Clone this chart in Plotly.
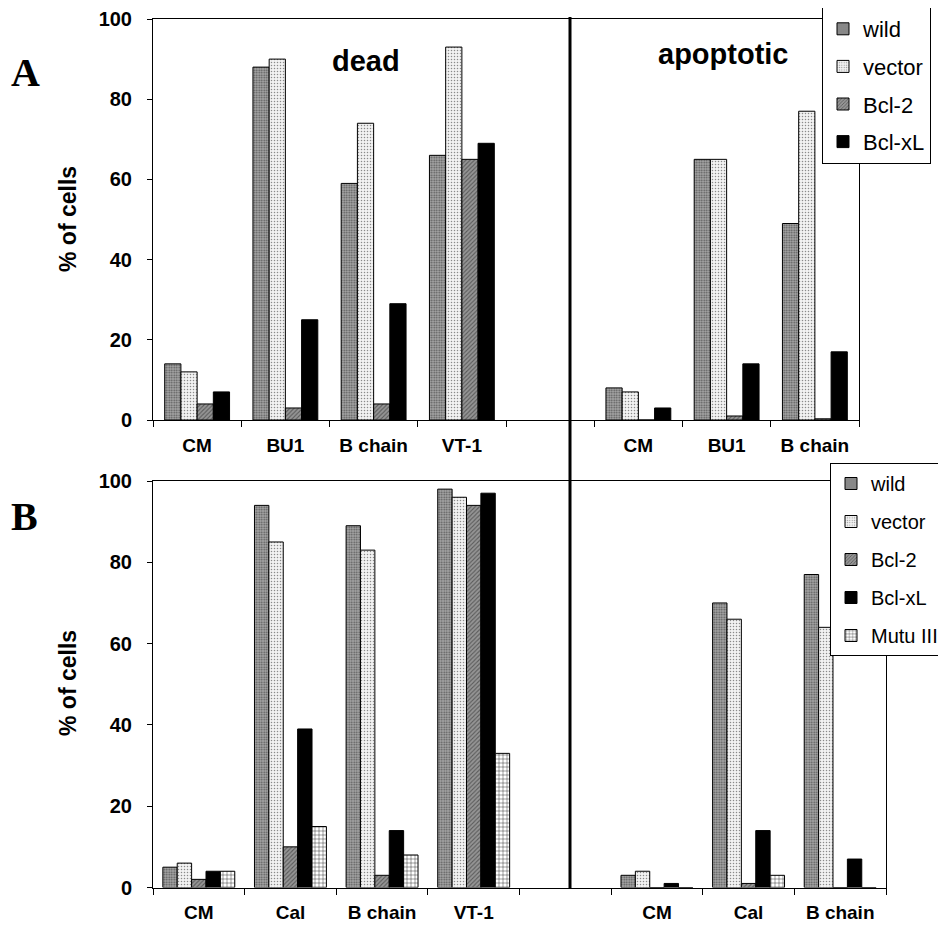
import plotly.graph_objects as go

# ---------------- data ----------------
series_A = ["wild", "vector", "Bcl-2", "Bcl-xL"]
series_B = ["wild", "vector", "Bcl-2", "Bcl-xL", "Mutu III"]

dead_A_cats = ["CM", "BU1", "B chain", "VT-1"]
apo_A_cats = ["CM", "BU1", "B chain"]
dead_B_cats = ["CM", "Cal", "B chain", "VT-1"]
apo_B_cats = ["CM", "Cal", "B chain"]

# Panel A (% of cells)
A_dead_wild = [14, 88, 59, 66]
A_dead_vector = [12, 90, 74, 93]
A_dead_bcl2 = [4, 3, 4, 65]
A_dead_bclxl = [7, 25, 29, 69]
A_apo_wild = [8, 65, 49]
A_apo_vector = [7, 65, 77]
A_apo_bcl2 = [0, 1, 0.3]
A_apo_bclxl = [3, 14, 17]

# Panel B (% of cells)
B_dead_wild = [5, 94, 89, 98]
B_dead_vector = [6, 85, 83, 96]
B_dead_bcl2 = [2, 10, 3, 94]
B_dead_bclxl = [4, 39, 14, 97]
B_dead_mutu = [4, 15, 8, 33]
B_apo_wild = [3, 70, 77]
B_apo_vector = [4, 66, 64]
B_apo_bcl2 = [0, 1, 0]
B_apo_bclxl = [1, 14, 7]
B_apo_mutu = [0, 3, 0]

y_ticks = [0, 20, 40, 60, 80, 100]

# ---------------- geometry / styles ----------------
OFF = 8                 # page body margin of the html page
W, H = 946 - OFF, 929 - OFF

def px_x(p):
    return (p - OFF) / W

def px_y(p):
    return 1 - (p - OFF) / H

styles = {
    "wild": dict(color="#a0a0a0", pattern=dict(shape=".", fgcolor="#555555", bgcolor="#a8a8a8",
                                               size=2.5, solidity=0.4, fillmode="replace")),
    "vector": dict(color="#eeeeee", pattern=dict(shape=".", fgcolor="#8a8a8a", bgcolor="#f2f2f2",
                                                 size=3, solidity=0.2, fillmode="replace")),
    "Bcl-2": dict(color="#8c8c8c", pattern=dict(shape="/", fgcolor="#5a5a5a", bgcolor="#959595",
                                                size=3, solidity=0.35, fillmode="replace")),
    "Bcl-xL": dict(color="#000000"),
    "Mutu III": dict(color="#ffffff", pattern=dict(shape="+", fgcolor="#000000", bgcolor="#ffffff",
                                                   size=4, solidity=0.18, fillmode="replace")),
}

def cats(prefix, names):
    return [f"{prefix}|{n}" for n in names]

catarr_A = cats("dead", dead_A_cats) + ["gap"] + cats("apo", apo_A_cats)
catarr_B = cats("dead", dead_B_cats) + ["gap"] + cats("apo", apo_B_cats)
ticktext_A = dead_A_cats + [""] + apo_A_cats
ticktext_B = dead_B_cats + [""] + apo_B_cats

fig = go.Figure()

A_data = [(A_dead_wild, A_apo_wild), (A_dead_vector, A_apo_vector),
          (A_dead_bcl2, A_apo_bcl2), (A_dead_bclxl, A_apo_bclxl)]
B_data = [(B_dead_wild, B_apo_wild), (B_dead_vector, B_apo_vector),
          (B_dead_bcl2, B_apo_bcl2), (B_dead_bclxl, B_apo_bclxl),
          (B_dead_mutu, B_apo_mutu)]

group_A = 0.735
group_B = 0.785

for i, (name, (d, a)) in enumerate(zip(series_A, A_data)):
    w = group_A / len(series_A)
    fig.add_trace(go.Bar(
        name=name, x=cats("dead", dead_A_cats) + cats("apo", apo_A_cats), y=d + a,
        xaxis="x", yaxis="y", width=w, offset=-group_A / 2 + i * w,
        marker=dict(line=dict(color="black", width=1), **styles[name]),
        legend="legend", legendgroup="A" + name,
    ))

for i, (name, (d, a)) in enumerate(zip(series_B, B_data)):
    w = group_B / len(series_B)
    fig.add_trace(go.Bar(
        name=name, x=cats("dead", dead_B_cats) + cats("apo", apo_B_cats), y=d + a,
        xaxis="x2", yaxis="y2", width=w, offset=-group_B / 2 + i * w,
        marker=dict(line=dict(color="black", width=1), **styles[name]),
        legend="legend2", legendgroup="B" + name,
    ))

tickfont = dict(family="Liberation Sans, Arial", size=20, color="black", weight="bold")
xtickfont = dict(family="Liberation Sans, Arial", size=19, color="black", weight="bold")

common_x = dict(type="category", showline=True, linecolor="black", linewidth=1, mirror=True,
                ticks="outside", ticklen=6, tickcolor="black", tickson="boundaries",
                showgrid=False, zeroline=False, tickfont=xtickfont, ticklabelstandoff=8,
                fixedrange=True)
common_y = dict(range=[0, 100], tickvals=y_ticks, showline=True, linecolor="black", linewidth=1,
                mirror=True, ticks="outside", ticklen=5, tickcolor="black", showgrid=False,
                zeroline=False, tickfont=tickfont, ticklabelstandoff=11, fixedrange=True)

fig.update_layout(
    width=W, height=H,
    margin=dict(l=0, r=0, t=0, b=0, autoexpand=False),
    paper_bgcolor="white", plot_bgcolor="white",
    barmode="group",
    font=dict(family="Liberation Sans, Arial", color="black"),
    xaxis=dict(domain=[px_x(153), px_x(859)], anchor="y", categoryorder="array",
               categoryarray=catarr_A, tickvals=catarr_A, ticktext=ticktext_A, **common_x),
    yaxis=dict(domain=[px_y(420), px_y(19)], anchor="x", **common_y),
    xaxis2=dict(domain=[px_x(153), px_x(886)], anchor="y2", categoryorder="array",
                categoryarray=catarr_B, tickvals=catarr_B, ticktext=ticktext_B, **common_x),
    yaxis2=dict(domain=[px_y(887.5), px_y(481)], anchor="x2", **common_y),
    legend=dict(x=px_x(822), y=px_y(7), xanchor="left", yanchor="top",
                bgcolor="white", bordercolor="black", borderwidth=1,
                font=dict(size=22, family="Liberation Sans, Arial", color="black"),
                tracegroupgap=6,
                itemclick=False, itemdoubleclick=False),
    legend2=dict(x=px_x(830), y=px_y(463), xanchor="left", yanchor="top",
                 bgcolor="white", bordercolor="black", borderwidth=1,
                 font=dict(size=20, family="Liberation Sans, Arial", color="black"),
                 tracegroupgap=9,
                 itemclick=False, itemdoubleclick=False),
    showlegend=True,
)

annots = [
    dict(text="A", x=px_x(25), y=px_y(72), font=dict(family="Liberation Serif, Times New Roman", size=40, weight="bold")),
    dict(text="B", x=px_x(24), y=px_y(516), font=dict(family="Liberation Serif, Times New Roman", size=40, weight="bold")),
    dict(text="% of cells", x=px_x(68), y=px_y(219), textangle=-90,
         font=dict(family="Liberation Sans, Arial", size=23, weight="bold")),
    dict(text="% of cells", x=px_x(68), y=px_y(683), textangle=-90,
         font=dict(family="Liberation Sans, Arial", size=23, weight="bold")),
    dict(text="dead", x=px_x(366), y=px_y(61), font=dict(family="Liberation Sans, Arial", size=29, weight="bold")),
    dict(text="apoptotic", x=px_x(723), y=px_y(54), font=dict(family="Liberation Sans, Arial", size=29, weight="bold")),
]
for a in annots:
    a.update(xref="paper", yref="paper", showarrow=False, xanchor="center", yanchor="middle")
    a["font"].setdefault("color", "black")
fig.update_layout(annotations=annots)

fig.add_shape(type="line", xref="paper", yref="paper",
              x0=px_x(570), x1=px_x(570), y0=px_y(17), y1=px_y(888),
              line=dict(color="black", width=3))

fig.write_html("out.html")
